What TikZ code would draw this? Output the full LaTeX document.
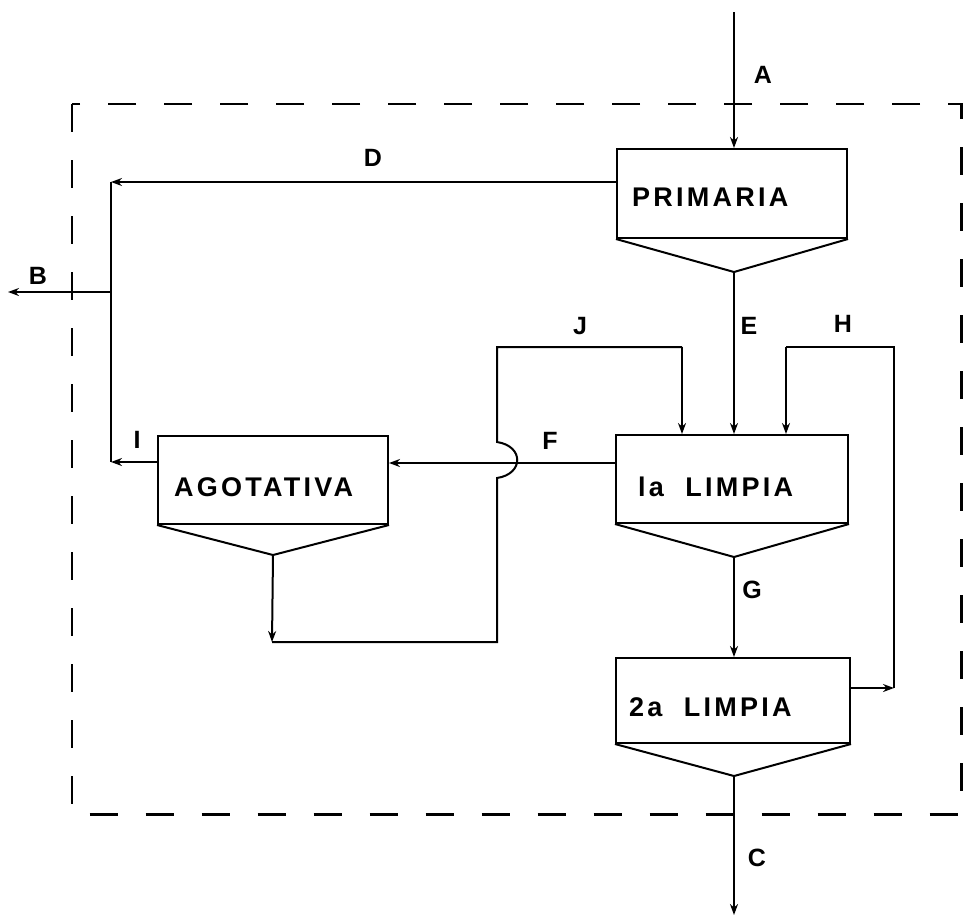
\documentclass[tikz,border=0pt]{standalone}
\usepackage{fontspec}
\usetikzlibrary{arrows.meta,calc}
\newfontfamily\boxfont{Liberation Sans}[LetterSpace=12]
\newfontfamily\lblfont{Liberation Sans}
\begin{document}
\begin{tikzpicture}[x=1pt,y=-1pt,
  line/.style={line width=2pt},
  arr/.style={line width=2pt,-{Stealth[length=11pt,width=8pt]}},
  unit/.style={draw,line width=2pt,rectangle,inner sep=0pt},
  btext/.style={anchor=west,inner sep=0pt,font=\boxfont\bfseries\fontsize{27}{27}\selectfont},
  lbl/.style={inner sep=0pt,font=\lblfont\bfseries\fontsize{25}{25}\selectfont}]
\useasboundingbox (0,0) rectangle (963,919);
% boundary
\draw[line width=2.2pt,dash pattern=on 28pt off 28pt] (72,104) rectangle (961.5,814.5);
% units
\node[unit,minimum width=230pt,minimum height=89pt] (prim) at (732,193.5) {};
\node[unit,minimum width=230pt,minimum height=88pt] (agot) at (273,480) {};
\node[unit,minimum width=232pt,minimum height=88pt] (lim1) at (732,479) {};
\node[unit,minimum width=234pt,minimum height=85pt] (lim2) at (733,700.5) {};
\coordinate (primA) at (734,272);
\coordinate (agotA) at (273,555);
\coordinate (lim1A) at (734,557);
\coordinate (lim2A) at (734,776);
\draw[line] (prim.south west) -- (primA) -- (prim.south east);
\draw[line] (agot.south west) -- (agotA) -- (agot.south east);
\draw[line] (lim1.south west) -- (lim1A) -- (lim1.south east);
\draw[line] (lim2.south west) -- (lim2A) -- (lim2.south east);
\node[btext] (tprim) at (632,197) {PRIMARIA};
\node[btext] (tagot) at (174,487) {AGOTATIVA};
\node[btext] (tlim1) at (638,487) {la\ \ LIMPIA};
\node[btext] (tlim2) at (629,707) {2a\ \ LIMPIA};
% coordinates of free ends and corners
\coordinate (Ain) at (734,12);
\coordinate (Dc) at (111,182);
\coordinate (Ic) at (111,462);
\coordinate (Bj) at (111,292);
\coordinate (Bout) at (8,292);
\coordinate (Jc1) at (272,642);
\coordinate (Jc2) at (497,642);
\coordinate (Jb1) at (497,478);
\coordinate (Jb2) at (497,442);
\coordinate (Jc3) at (497,347);
\coordinate (Jc4) at (682,347);
\coordinate (Hc1) at (894,688);
\coordinate (Hc2) at (894,347);
\coordinate (Hc3) at (786,347);
\coordinate (Cout) at (734,915);
% A
\draw[arr] (Ain) -- (prim.north -| Ain);
% D
\draw[arr] (prim.west |- Dc) -- (Dc);
\draw[line] (Dc) -- (Ic);
% B
\draw[arr] (Bj) -- (Bout);
% I
\draw[arr] (agot.west |- Ic) -- (Ic);
% E
\draw[arr] (primA) -- (lim1.north -| primA);
% F
\draw[arr] (lim1.west |- 0,463) -- (agot.east |- 0,463);
% J
\draw[arr] (agotA) -- (Jc1);
\draw[line] (Jc1) -- (Jc2) -- (Jb1) .. controls (524,474) and (524,446) .. (Jb2) -- (Jc3) -- (Jc4);
\draw[arr] (Jc4) -- (lim1.north -| Jc4);
% G
\draw[arr] (lim1A) -- (lim2.north -| lim1A);
% H
\draw[arr] (lim2.east |- Hc1) -- (Hc1);
\draw[line] (Hc1) -- (Hc2) -- (Hc3);
\draw[arr] (Hc3) -- (lim1.north -| Hc3);
% C
\draw[arr] (lim2A) -- (Cout);
% labels
\node[lbl] (lA) at (763,75) {A};
\node[lbl] (lB) at (38,276) {B};
\node[lbl] (lC) at (757,858) {C};
\node[lbl] (lD) at (373,158) {D};
\node[lbl] (lE) at (749,326) {E};
\node[lbl] (lF) at (550,441) {F};
\node[lbl] (lG) at (752,590) {G};
\node[lbl] (lH) at (843,324) {H};
\node[lbl] (lI) at (137,440) {I};
\node[lbl] (lJ) at (580,326) {J};
\end{tikzpicture}
\end{document}
